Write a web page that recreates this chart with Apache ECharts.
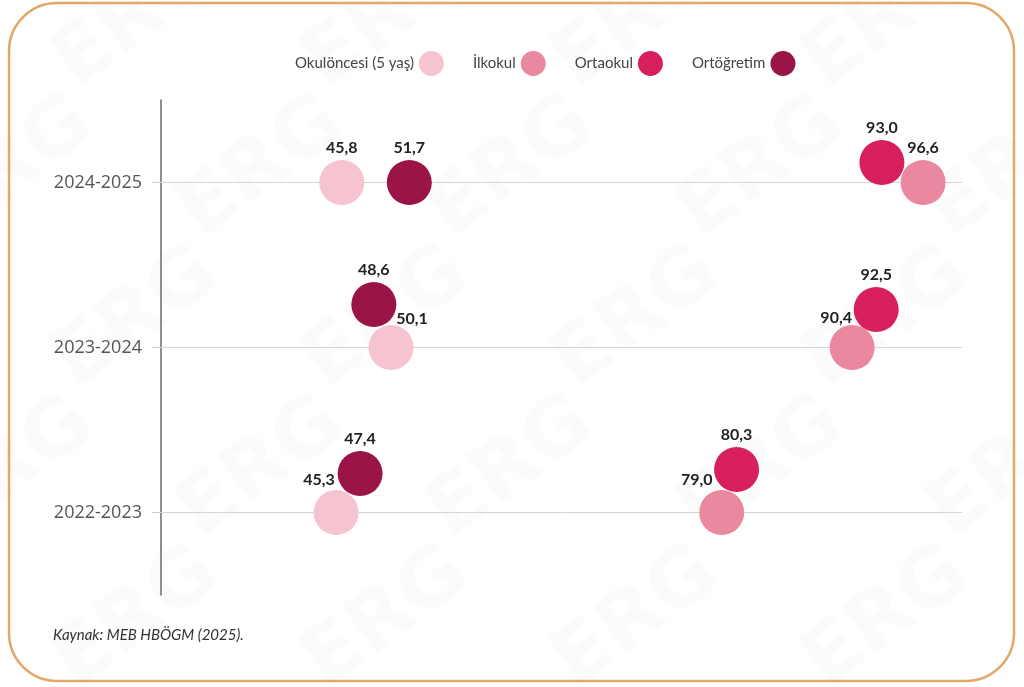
<!DOCTYPE html>
<html>
<head>
<meta charset="utf-8">
<script src="https://cdn.jsdelivr.net/npm/echarts@6/dist/echarts.min.js"></script>
<style>
html,body{margin:0;padding:0;background:#fff;}
#chart{width:1024px;height:687px;}
</style>
</head>
<body>
<div id="chart"></div>
<script>
// ---- Data ----
const years = ['2022-2023', '2023-2024', '2024-2025'];
const seriesNames = ['Okulöncesi (5 yaş)', 'İlkokul', 'Ortaokul', 'Ortöğretim'];
const okuloncesi = [45.3, 50.1, 45.8];
const ilkokul = [79.0, 90.4, 96.6];
const ortaokul = [80.3, 92.5, 93.0];
const ortogretim = [47.4, 48.6, 51.7];
const sourceText = 'Kaynak: MEB HBÖGM (2025).';

// ---- Styling (kept separate from data) ----
const colors = ['#f6c3d1', '#e9889f', '#d61f5b', '#9b1447'];
// vertical symbol displacement (px) to avoid overlap, per series per year
const symOffsetY = [
  [0, 0, 0],
  [0, 0, 0],
  [-43, -38, -20],
  [-39, -43, 0]
];
// label offsets relative to 'top' position
const lblOffset = [
  [[-17, 2], [21, 6], [0, 0]],
  [[-25, 2], [-16, 5], [0, 0]],
  [[0, 0], [0, 0], [0, 0]],
  [[0, 0], [0, 0], [0, 0]]
];

const allValues = [okuloncesi, ilkokul, ortaokul, ortogretim];
const fmt = v => v.toFixed(1).replace('.', ',');

const chart = echarts.init(document.getElementById('chart'), null, {renderer: 'canvas'});

// faint watermark
const wm = [];
for (let r = -1; r < 6; r++) {
  for (let c = -1; c < 6; c++) {
    wm.push({
      type: 'text',
      x: c * 250 + (r % 2) * 125 + 40,
      y: r * 150 + 40,
      rotation: Math.PI / 5,
      silent: true,
      z: -10,
      style: {
        text: 'ERG',
        font: 'bold 80px "DejaVu Sans"',
        fill: 'rgba(0,0,0,0.016)'
      }
    });
  }
}

const series = allValues.map((vals, si) => ({
  name: seriesNames[si],
  type: 'scatter',
  symbol: 'circle',
  symbolSize: 45,
  itemStyle: {color: colors[si], opacity: 1},
  z: 3 + (si === 1 ? 1 : 0),
  data: vals.map((v, yi) => ({
    value: [v, years[yi]],
    symbolOffset: [0, symOffsetY[si][yi]],
    label: {
      offset: [lblOffset[si][yi][0], lblOffset[si][yi][1]]
    }
  })),
  label: {
    show: true,
    position: 'top',
    distance: 4,
    formatter: p => fmt(p.value[0]),
    color: '#222',
    fontFamily: 'Lato',
    fontWeight: 'bold',
    fontSize: 16
  },
  emphasis: {disabled: true},
  markLine: si === 0 ? {
    silent: true,
    symbol: 'none',
    label: {show: false},
    lineStyle: {color: '#d4d4d4', type: 'solid', width: 1},
    z: 1,
    data: years.map(y => ({yAxis: y}))
  } : undefined
}));

chart.setOption({
  backgroundColor: '#ffffff',
  animation: false,
  graphic: [
    ...wm,
    {
      type: 'rect',
      silent: true,
      z: 100,
      shape: {x: 9, y: 3, width: 1005, height: 678, r: 48},
      style: {fill: 'none', stroke: '#e3a767', lineWidth: 2.5}
    },
    {
      type: 'text',
      left: 53,
      top: 628,
      silent: true,
      style: {
        text: sourceText,
        font: 'italic 15px Lato',
        fill: '#333'
      }
    }
  ],
  legend: {
    data: seriesNames,
    left: 290,
    top: 46,
    align: 'right',
    icon: 'circle',
    itemWidth: 25,
    itemHeight: 25,
    itemGap: 29,
    selectedMode: false,
    textStyle: {color: '#444', fontFamily: 'Lato', fontSize: 15}
  },
  grid: {left: 161, right: 62, top: 100, bottom: 92, containLabel: false},
  xAxis: {
    type: 'value',
    min: 30,
    max: 100,
    show: false
  },
  yAxis: {
    type: 'category',
    data: years,
    axisLine: {show: true, lineStyle: {color: '#6a6a6a', width: 1.5}},
    axisTick: {show: true, alignWithLabel: true, length: 9, lineStyle: {color: '#cfcfcf'}},
    axisLabel: {color: '#555', fontFamily: 'Open Sans', fontSize: 18, margin: 19},
    splitLine: {show: false}
  },
  series: series
});
</script>
</body>
</html>
